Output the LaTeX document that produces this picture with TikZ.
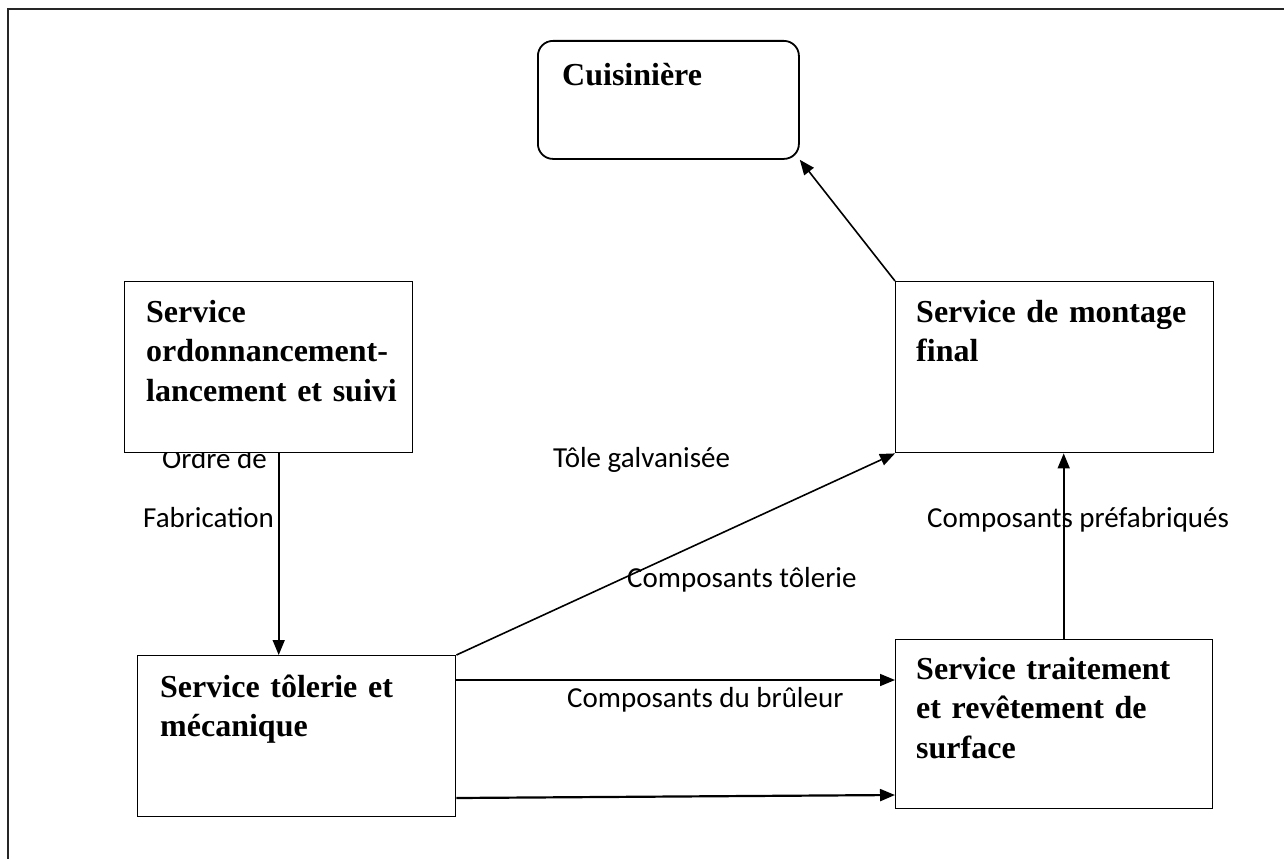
\documentclass[tikz,border=0pt]{standalone}
\usepackage{fontspec}
\setmainfont{Liberation Serif}
\newfontfamily\labelfont{Carlito}
\usetikzlibrary{arrows.meta,calc}
\begin{document}
\begin{tikzpicture}[x=1pt,y=-1pt,
  box/.style={draw,line width=1.4pt,fill=white,inner sep=0pt,anchor=north west},
  title/.style={font=\bfseries\fontsize{32}{39.5}\selectfont,anchor=base west,
                inner sep=0pt,align=left,text width=300pt},
  lbl/.style={font=\labelfont\fontsize{29}{35}\selectfont,anchor=base west,inner sep=0pt},
  arr/.style={line width=1.6pt,-{Triangle[length=15pt,width=12pt]}}]
\useasboundingbox (0,0) rectangle (1284,859);

% page frame
\draw[line width=2.5pt,black!85] (1284,9) -- (8,9) -- (8,859);

% labels partly hidden by the boxes are set first
\node[lbl] (ordre) at (162,468) {Ordre de};
\node[lbl] (fabr) at (143,527) {Fabrication};

% service boxes
\node[box,rounded corners=15pt,line width=1.8pt,minimum width=261pt,minimum height=118pt]
  (cuis) at (537,40) {};
\node[box,minimum width=288pt,minimum height=171pt] (ordo) at (124,281) {};
\node[box,minimum width=318pt,minimum height=171pt] (mont) at (895,281) {};
\node[box,minimum width=318pt,minimum height=161pt] (tol) at (137,655) {};
\node[box,minimum width=317pt,minimum height=169pt] (trait) at (895,639) {};

% box titles
\node[title] (tcuis) at (562,85) {Cuisinière};
\node[title] (tordo) at (146,322) {Service\\ordonnancement-\\lancement et suivi};
\node[title] (tmont) at (916,322) {Service de montage\\final};
\node[title] (ttol) at (160,697) {Service tôlerie et\\mécanique};
\node[title] (ttrait) at (916,679) {Service traitement\\et revêtement de\\surface};

% flows
\draw[arr] ($(ordo.south)+(10,0)$) -- ($(tol.north)+(-18,0)$);
\draw[arr] (mont.north west) -- (cuis.south east);
\draw[arr] (tol.north east) -- (mont.south west);
\draw[arr] ($(trait.north)+(9.5,0)$) -- ($(mont.south)+(9,0)$);
\draw[arr] (tol.east |- 0,680) -- (trait.west |- 0,680);
\draw[arr,line width=2.2pt] (tol.east |- 0,798) -- (trait.west |- 0,795);

% flow labels
\node[lbl] (tole) at (553,467) {Tôle galvanisée};
\node[lbl] (ctol) at (627,587) {Composants tôlerie};
\node[lbl] (cbrul) at (567,707) {Composants du brûleur};
\node[lbl] (cpref) at (927,527) {Composants préfabriqués};
\end{tikzpicture}
\end{document}
